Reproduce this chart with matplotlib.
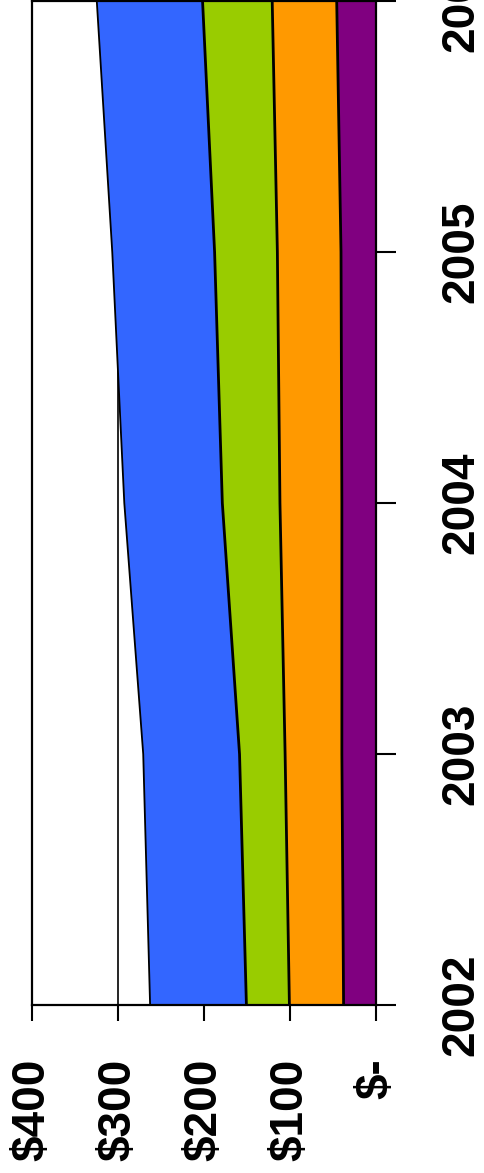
import matplotlib
matplotlib.use("Agg")
import matplotlib.pyplot as plt
from matplotlib import font_manager
import numpy as np

# Yearly values per series (stacked from the axis outward)
years = [2002, 2003, 2004, 2005, 2006]
purple_vals = [38, 40, 40, 41, 46]
orange_vals = [63, 66, 72, 74, 75]
green_vals = [50, 53, 67, 73, 81]
blue_vals = [112, 112, 114, 119, 123]

series_names = ["Purple", "Orange", "Green", "Blue"]
series_colors = ["#800080", "#FF9900", "#99CC00", "#3366FF"]
value_ticks = [400, 300, 200, 100, 0]
value_labels = ["$400", "$300", "$200", "$100", "$-"]
year_labels = ["2002", "2003", "2004", "2005", "2006"]

series = [purple_vals, orange_vals, green_vals, blue_vals]

# Prefer a narrow bold sans for the tall tick labels; otherwise a regular one, smaller
installed = {f.name for f in font_manager.fontManager.ttflist}
if "Liberation Sans Narrow" in installed:
    label_font = dict(family=["Liberation Sans Narrow", "DejaVu Sans"], weight="bold", size=40)
else:
    label_font = dict(family=["Liberation Sans", "DejaVu Sans"], weight="bold", size=33)

fig = plt.figure(figsize=(4.84, 11.73), dpi=100)
ax = fig.add_axes([0.0667, 0.1432, 0.7107, 0.8559])

y = np.array(years, dtype=float)
base = np.zeros(len(years))
for name, vals, col in zip(series_names, series, series_colors):
    top = base + np.array(vals, dtype=float)
    ax.fill_betweenx(y, base, top, facecolor=col, edgecolor="none", zorder=2)
    lw = 1.3 if name == "Blue" else 2.0
    ax.plot(top, y, color="black", lw=lw, zorder=3, solid_joinstyle="round")
    base = top

ax.set_xlim(400, 0)
ax.set_ylim(2002, 2006)

ax.set_xticks(value_ticks)
ax.set_xticklabels(value_labels, rotation=90, **label_font)
ax.set_yticks(years)
ax.set_yticklabels(year_labels, rotation=90, va="center", **label_font)
ax.yaxis.tick_right()

ax.tick_params(axis="x", direction="out", length=11.5, width=1.5, pad=27, colors="black")
ax.tick_params(axis="y", direction="out", length=14.4, width=1.5, pad=31, colors="black")

ax.set_axisbelow(True)
ax.grid(axis="x", color="black", lw=1.2, zorder=0)
ax.grid(axis="y", visible=False)

for s in ax.spines.values():
    s.set_color("black")
    s.set_linewidth(1.6)
    s.set_zorder(4)

fig.savefig("out.png", dpi=100)
